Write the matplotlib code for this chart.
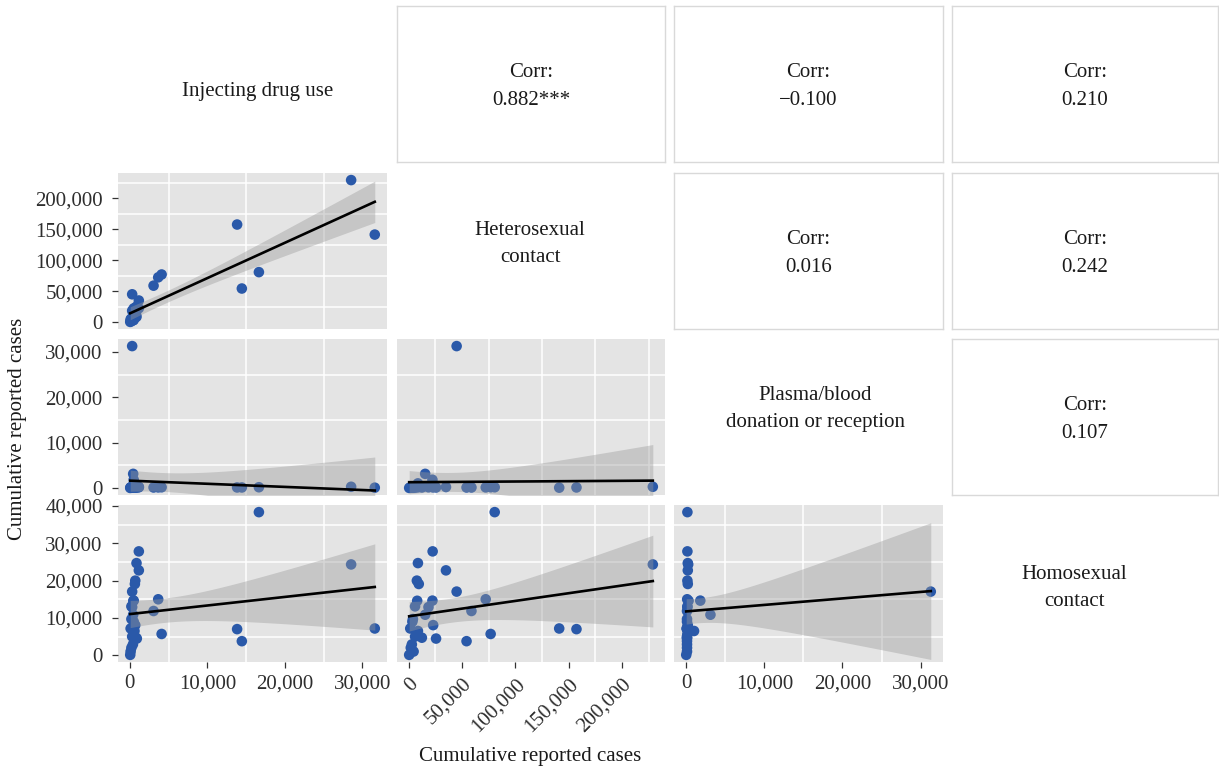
import numpy as np
import matplotlib
matplotlib.use("Agg")
from matplotlib import pyplot as plt
from matplotlib.ticker import MultipleLocator, AutoMinorLocator, FuncFormatter

# Cumulative reported cases per province, by transmission route
injecting_drug_use = [28550, 31600, 13840, 16650, 14450, 4100, 3660, 3060, 300, 1160,
                      1160, 860, 700, 650, 500, 450, 200, 430, 200, 700,
                      100, 600, 300, 800, 900, 400, 200, 100, 50, 300, 500]
heterosexual = [229000, 141200, 157400, 80700, 54300, 76900, 72300, 58900, 45000, 35000,
                22500, 8700, 7700, 9500, 22300, 8000, 6000, 15500, 4000, 23000,
                1500, 8700, 6000, 12400, 25700, 3000, 2000, 4650, 500, 18600, 3500]
plasma_blood = [250, 50, 100, 150, 100, 150, 120, 100, 31300, 200,
                150, 200, 150, 200, 1800, 300, 150, 3100, 100, 200,
                100, 1000, 100, 100, 100, 100, 100, 100, 0, 150, 100]
homosexual = [24340, 7170, 7000, 38360, 3770, 5700, 15000, 11860, 17060, 22750,
              27840, 24700, 20000, 19100, 14640, 14600, 13100, 10860, 9700, 8070,
              7170, 6500, 5000, 4700, 4470, 2900, 2000, 1000, 100, 12900, 9000]

variables = [injecting_drug_use, heterosexual, plasma_blood, homosexual]
var_names = ["Injecting drug use", "Heterosexual\ncontact",
             "Plasma/blood\ndonation or reception", "Homosexual\ncontact"]
tick_steps = [10000, 50000, 10000, 10000]

# upper triangle correlation labels as printed: (row, col) -> text
corr_labels = {(0, 1): "0.882***", (0, 2): "\u22120.100", (0, 3): "0.210",
               (1, 2): "0.016", (1, 3): "0.242", (2, 3): "0.107"}

W, H = 1219, 771
col_left = [118, 397, 674, 952]
col_width = [269, 268, 269, 266]
row_top = [6, 173, 339, 505]
row_height = [156, 156, 156, 157]
# label positions inside the diagonal panels (axes fraction)
diag_pos = [(0.52, 0.455), (0.497, 0.545), (0.525, 0.55), (0.46, 0.47)]

BLUE = "#2A59A9"
PANEL = "#E4E4E4"
FS = 15

plt.rcParams["font.family"] = ["Liberation Serif", "DejaVu Serif"]
plt.rcParams["text.color"] = "#1A1A1A"


def comma(v, pos):
    return "{:,.0f}".format(v)


def lims(vals):
    lo, hi = min(vals), max(vals)
    pad = (hi - lo) * 0.05
    return lo - pad, hi + pad


def fit_band(x, y):
    x = np.asarray(x, float)
    y = np.asarray(y, float)
    n = len(x)
    xs = np.linspace(x.min(), x.max(), 100)
    b, a = np.polyfit(x, y, 1)
    resid = y - (a + b * x)
    s = np.sqrt(np.sum(resid ** 2) / (n - 2))
    sxx = np.sum((x - x.mean()) ** 2)
    se = s * np.sqrt(1 / n + (xs - x.mean()) ** 2 / sxx)
    t = 2.045  # t quantile 0.975, df = 29
    fit = a + b * xs
    return xs, fit, fit - t * se, fit + t * se


fig = plt.figure(figsize=(W / 100, H / 100), dpi=100)

for r in range(4):
    for c in range(4):
        rect = [col_left[c] / W, 1 - (row_top[r] + row_height[r]) / H,
                col_width[c] / W, row_height[r] / H]
        ax = fig.add_axes(rect)

        if r == c:
            # diagonal: variable name
            ax.axis("off")
            ax.text(*diag_pos[r], var_names[r], transform=ax.transAxes,
                    ha="center", va="center", fontsize=FS, linespacing=1.55)
            continue

        if r < c:
            # upper triangle: correlation box
            ax.set_xticks([])
            ax.set_yticks([])
            for sp in ax.spines.values():
                sp.set_color("#D9D9D9")
                sp.set_linewidth(1.0)
            ax.text(0.5, 0.485, "Corr:\n" + corr_labels[(r, c)], transform=ax.transAxes,
                    ha="center", va="center", fontsize=FS, linespacing=1.6)
            continue

        # lower triangle: scatter + linear fit
        x = variables[c]
        y = variables[r]
        ax.set_facecolor(PANEL)
        for sp in ax.spines.values():
            sp.set_visible(False)
        ax.scatter(x, y, s=58, color=BLUE, edgecolors="none", zorder=3)
        xs, fit, lo, hi = fit_band(x, y)
        ax.fill_between(xs, lo, hi, color="#999999", alpha=0.4, lw=0, zorder=4)
        ax.plot(xs, fit, color="black", lw=1.9, zorder=5)
        ax.set_xlim(lims(x))
        ax.set_ylim(lims(y))

        ax.xaxis.set_major_locator(MultipleLocator(tick_steps[c]))
        ax.yaxis.set_major_locator(MultipleLocator(tick_steps[r]))
        ax.xaxis.set_minor_locator(AutoMinorLocator(2))
        ax.yaxis.set_minor_locator(AutoMinorLocator(2))
        ax.grid(which="minor", color="white", lw=1.1, zorder=0)
        ax.grid(which="major", visible=False)
        ax.set_axisbelow(True)
        ax.tick_params(which="minor", length=0)
        ax.tick_params(which="major", length=4, width=0.9, color="#333333",
                       labelsize=FS, labelcolor="#2E2E2E")
        ax.tick_params(axis="y", pad=7)
        ax.tick_params(axis="x", pad=5)

        if c == 0:
            ax.yaxis.set_major_formatter(FuncFormatter(comma))
        else:
            ax.tick_params(axis="y", labelleft=False, length=0)

        if r == 3:
            ax.xaxis.set_major_formatter(FuncFormatter(comma))
            if c == 1:
                for lab in ax.get_xticklabels():
                    lab.set_rotation(45)
                    lab.set_ha("right")
                    lab.set_rotation_mode("anchor")
        else:
            ax.tick_params(axis="x", labelbottom=False, length=0)

fig.text(530 / W, 1 - 757 / H, "Cumulative reported cases", ha="center", va="center",
         fontsize=FS)
fig.text(18 / W, 1 - 429 / H, "Cumulative reported cases", ha="center", va="center",
         rotation=90, fontsize=FS)

fig.savefig("out.png", dpi=100)
